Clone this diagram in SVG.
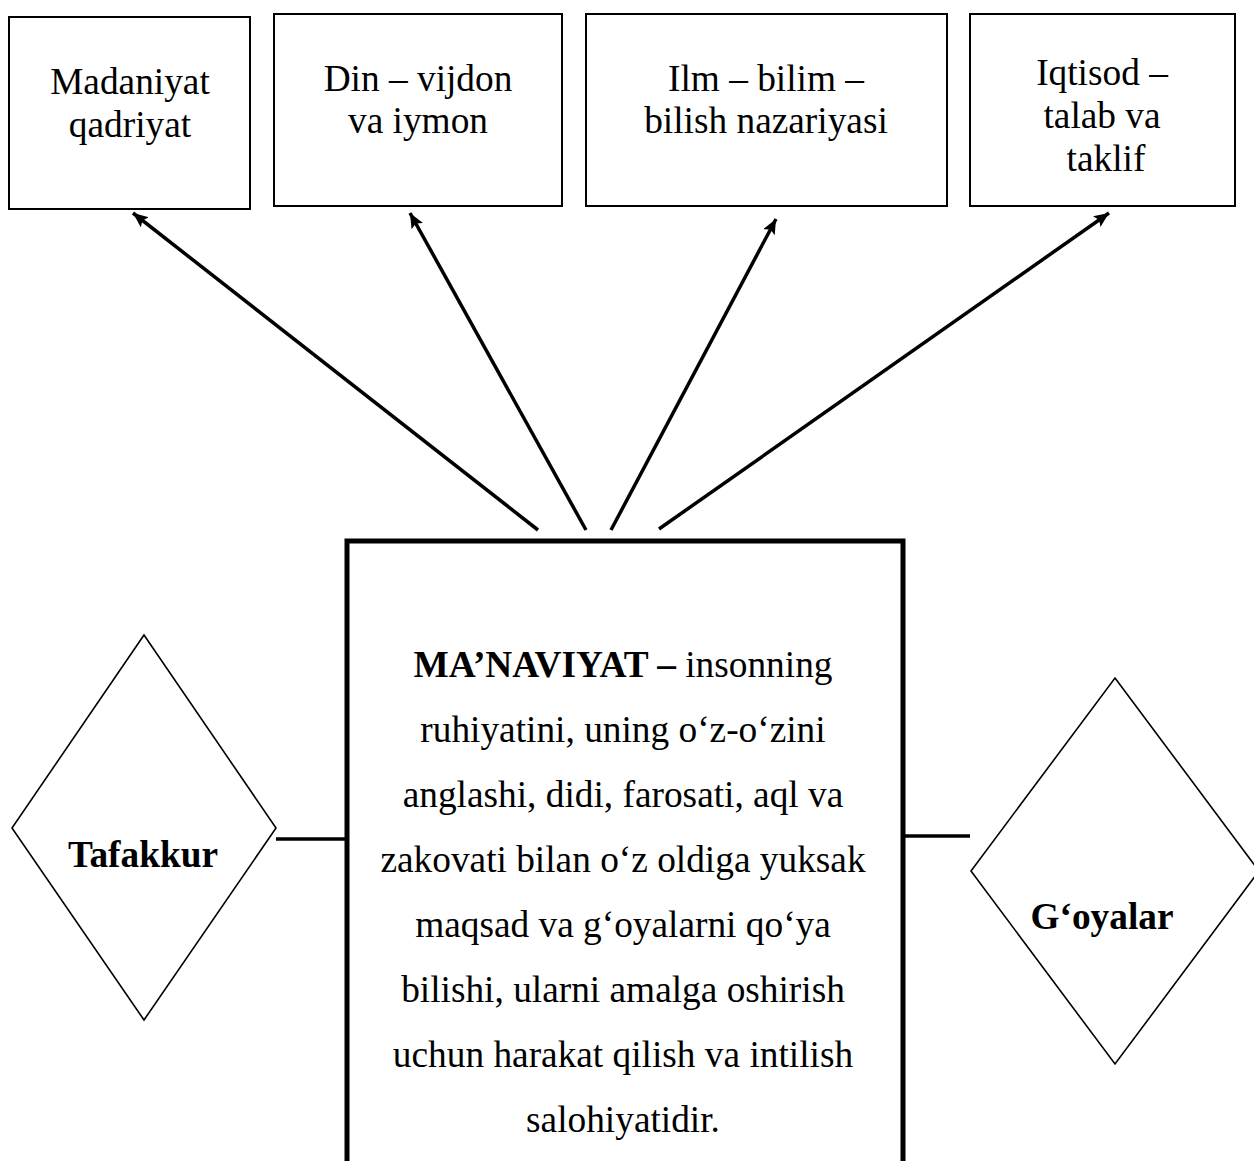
<svg xmlns="http://www.w3.org/2000/svg" width="1254" height="1161" viewBox="0 0 1254 1161">
<style>
.box{fill:#fff;stroke:#000;stroke-width:2}
.main{fill:#fff;stroke:#000;stroke-width:5}
.dia{fill:#fff;stroke:#000;stroke-width:1.6}
.t{font-family:"Liberation Serif","Times New Roman",serif;font-size:37.33px;fill:#000;text-anchor:middle}
.b{font-weight:bold}
.arr{stroke:#000;stroke-width:3.5;fill:none;marker-end:url(#ah)}
.ln{stroke:#000;stroke-width:3.5;fill:none}
</style>
<defs>
<marker id="ah" markerUnits="userSpaceOnUse" markerWidth="18" markerHeight="14" refX="15" refY="6.5" orient="auto">
<path d="M0,0 L15,6.5 L0,13 L3,6.5 Z" fill="#000"/>
</marker>
</defs>
<rect width="1254" height="1161" fill="#fff"/>
<g id="connectors">
<line class="arr" x1="538" y1="530" x2="133" y2="213"/>
<line class="arr" x1="586" y1="530" x2="410" y2="213"/>
<line class="arr" x1="611" y1="530" x2="776" y2="219"/>
<line class="arr" x1="659" y1="529" x2="1109" y2="213"/>
<line class="ln" x1="276" y1="839" x2="346" y2="839"/>
<line class="ln" x1="898" y1="836" x2="970" y2="836"/>
</g>
<g id="box-madaniyat">
<rect class="box" x="9" y="17" width="241" height="192"/>
<text class="t" x="130" y="94">Madaniyat</text>
<text class="t" x="130" y="137">qadriyat</text>
</g>
<g id="box-din">
<rect class="box" x="274" y="14" width="288" height="192"/>
<text class="t" x="418" y="91">Din – vijdon</text>
<text class="t" x="418" y="133">va iymon</text>
</g>
<g id="box-ilm">
<rect class="box" x="586" y="14" width="361" height="192"/>
<text class="t" x="766" y="91">Ilm – bilim –</text>
<text class="t" x="766" y="133">bilish nazariyasi</text>
</g>
<g id="box-iqtisod">
<rect class="box" x="970" y="14" width="265" height="192"/>
<text class="t" x="1102" y="85">Iqtisod –</text>
<text class="t" x="1102" y="128">talab va</text>
<text class="t" x="1106" y="171">taklif</text>
</g>
<g id="box-manaviyat">
<path class="main" d="M347,1175 L347,541 L903,541 L903,1175"/>
<text class="t" x="623" y="677"><tspan class="b">MA’NAVIYAT –</tspan> insonning</text>
<text class="t" x="623" y="742">ruhiyatini, uning o‘z-o‘zini</text>
<text class="t" x="623" y="807">anglashi, didi, farosati, aql va</text>
<text class="t" x="623" y="872">zakovati bilan o‘z oldiga yuksak</text>
<text class="t" x="623" y="937">maqsad va g‘oyalarni qo‘ya</text>
<text class="t" x="623" y="1002">bilishi, ularni amalga oshirish</text>
<text class="t" x="623" y="1067">uchun harakat qilish va intilish</text>
<text class="t" x="623" y="1132">salohiyatidir.</text>
</g>
<g id="diamond-tafakkur">
<polygon class="dia" points="144,635 276,828 144,1020 12,828"/>
<text class="t b" x="143" y="867">Tafakkur</text>
</g>
<g id="diamond-goyalar">
<polygon class="dia" points="1115,678 1259,871 1115,1064 971,871"/>
<text class="t b" x="1102" y="929">G‘oyalar</text>
</g>
</svg>
